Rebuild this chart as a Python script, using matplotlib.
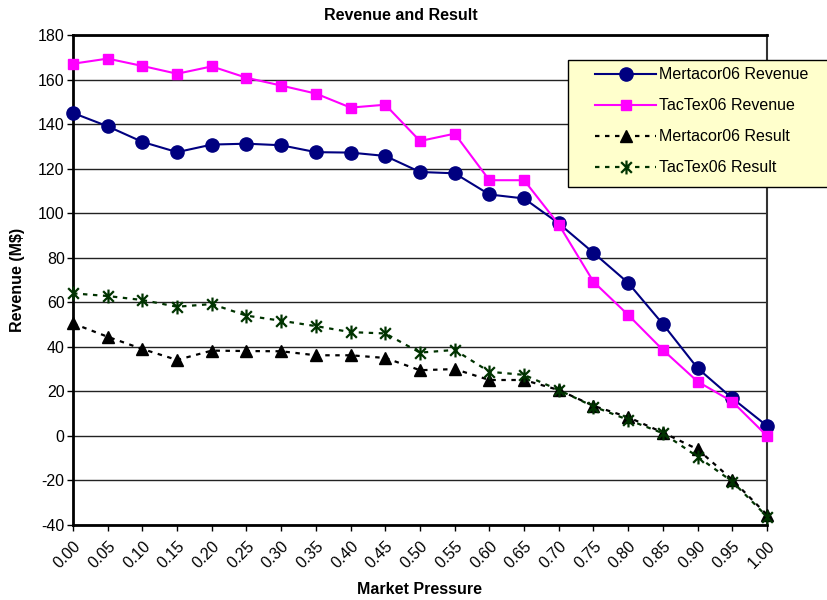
import numpy as np
import matplotlib.pyplot as plt
from matplotlib.path import Path
from matplotlib.patches import Rectangle

plt.rcParams['font.family'] = ['Liberation Sans', 'DejaVu Sans']
plt.rcParams['axes.unicode_minus'] = False

pressure = [0.00, 0.05, 0.10, 0.15, 0.20, 0.25, 0.30, 0.35, 0.40, 0.45, 0.50,
            0.55, 0.60, 0.65, 0.70, 0.75, 0.80, 0.85, 0.90, 0.95, 1.00]
tick_labels = ["%.2f" % p for p in pressure]

mertacor_revenue = [145.0, 139.0, 132.0, 127.4, 130.8, 131.2, 130.5, 127.4, 127.2, 125.7, 118.5,
                    117.9, 108.4, 106.6, 95.4, 82.2, 68.7, 50.2, 30.4, 16.9, 4.5]
tactex_revenue = [167.1, 169.4, 166.1, 162.6, 165.9, 160.8, 157.3, 153.7, 147.4, 148.7, 132.4,
                  135.7, 114.8, 114.8, 94.9, 69.2, 54.3, 38.6, 24.4, 15.4, 0.0]
mertacor_result = [50.5, 44.5, 39.0, 34.1, 38.3, 38.1, 38.0, 36.2, 36.2, 35.0, 29.5,
                   30.0, 25.1, 25.1, 20.6, 13.5, 8.4, 1.5, -6.0, -19.7, -35.4]
tactex_result = [64.0, 62.8, 61.0, 58.0, 59.2, 54.0, 51.7, 49.3, 46.6, 46.0, 37.4,
                 38.6, 28.8, 27.4, 20.6, 13.2, 7.2, 1.2, -9.3, -20.5, -36.2]

# Excel-style star: an X with a vertical bar through it
star = Path([(-1, -1), (1, 1), (-1, 1), (1, -1), (0, -1.3), (0, 1.3)],
            [Path.MOVETO, Path.LINETO, Path.MOVETO, Path.LINETO, Path.MOVETO, Path.LINETO])

fig = plt.figure(figsize=(8.28, 6.0), dpi=100)
ax = fig.add_axes([73 / 828, 1 - 525 / 600, (767 - 73) / 828, (525 - 35) / 600])

ax.set_xlim(0, 1)
ax.set_ylim(-40, 180)
ax.set_yticks(np.arange(-40, 181, 20))
ax.set_xticks(pressure)
ax.set_xticklabels(tick_labels, rotation=45, ha='right', va='top', rotation_mode='anchor')
ax.tick_params(axis='both', labelsize=11.5, length=4, width=1, direction='out')
ax.tick_params(axis='x', pad=6)
ax.tick_params(axis='y', pad=2)

ax.yaxis.grid(True, color='#222222', linewidth=1)
ax.set_axisbelow(True)
for side in ['left', 'bottom', 'top']:
    ax.spines[side].set_linewidth(2)
    ax.spines[side].set_color('black')
ax.spines['right'].set_linewidth(1.5)
ax.spines['right'].set_color('#333333')

lines = []
lines += ax.plot(pressure, mertacor_revenue, color='#000080', linewidth=1.5, marker='o',
                 markersize=9.5, label='Mertacor06 Revenue', clip_on=False, zorder=4)
lines += ax.plot(pressure, tactex_revenue, color='#FF00FF', linewidth=1.5, marker='s',
                 markersize=6.5, label='TacTex06 Revenue', clip_on=False, zorder=5)
lines += ax.plot(pressure, mertacor_result, color='black', linewidth=1.6, linestyle=(0, (2, 2.5)),
                 marker='^', markersize=8.5, label='Mertacor06 Result', clip_on=False, zorder=4)
lines += ax.plot(pressure, tactex_result, color='#003300', linewidth=1.6, linestyle=(0, (2, 2.5)),
                 marker=star, markersize=10, markeredgewidth=1.6, label='TacTex06 Result',
                 clip_on=False, zorder=5)

fig.text(401 / 828, 1 - 16 / 600, 'Revenue and Result', ha='center', va='center',
         fontsize=11.5, fontweight='bold')
fig.text(18 / 828, 1 - 280 / 600, r'Revenue (M\$)', ha='center', va='center',
         rotation=90, fontsize=11.5, fontweight='bold')
fig.text(420 / 828, 1 - 590 / 600, 'Market Pressure', ha='center', va='center',
         fontsize=11.5, fontweight='bold')

# legend box, running off the right edge
fig.patches.append(Rectangle((568 / 828, 1 - 187 / 600), 280 / 828, 127 / 600,
                             transform=fig.transFigure, facecolor='#FFFFCC',
                             edgecolor='black', linewidth=1, zorder=6))
leg = fig.legend(handles=lines, loc='upper left', bbox_to_anchor=(588 / 828, 1 - 60 / 600),
                 frameon=False, fontsize=11.5, handlelength=3.8, handletextpad=0.2,
                 labelspacing=1.0, borderpad=0.45, borderaxespad=0)
leg.set_zorder(7)

fig.savefig('out.png', dpi=100)
